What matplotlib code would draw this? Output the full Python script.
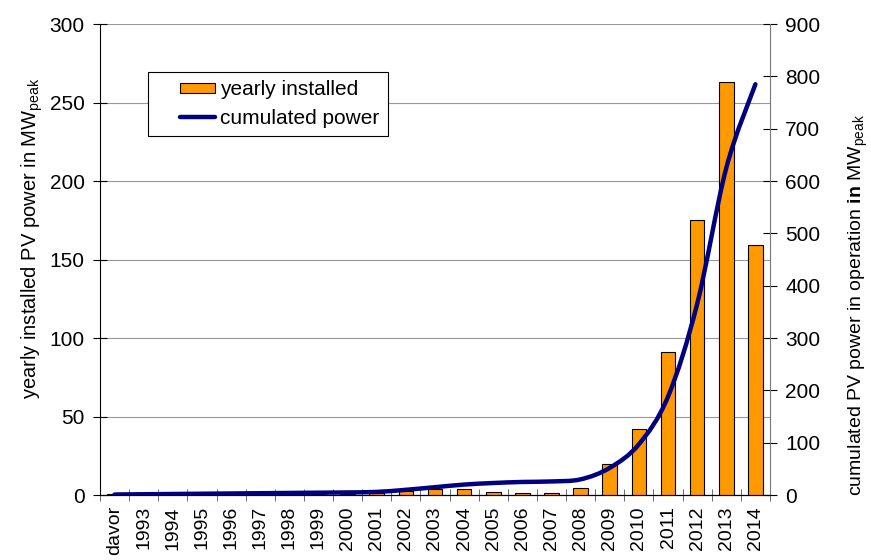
import numpy as np
import matplotlib
matplotlib.use("Agg")
import matplotlib.pyplot as plt
from matplotlib.path import Path
from matplotlib.patches import PathPatch, Patch, Rectangle
from matplotlib.lines import Line2D
from matplotlib.legend_handler import HandlerBase

plt.rcParams['font.family'] = ['Liberation Sans', 'DejaVu Sans']
plt.rcParams['mathtext.fontset'] = 'custom'
plt.rcParams['mathtext.rm'] = 'Liberation Sans'
plt.rcParams['mathtext.bf'] = 'Liberation Sans:bold'

# data
years = ['davor', '1993', '1994', '1995', '1996', '1997', '1998', '1999', '2000',
         '2001', '2002', '2003', '2004', '2005', '2006', '2007', '2008', '2009',
         '2010', '2011', '2012', '2013', '2014']
yearly = [0.6, 0.3, 0.3, 0.3, 0.4, 0.4, 0.5, 0.5, 0.6,
          1.0, 2.5, 3.8, 4.0, 2.2, 1.0, 1.4, 4.3, 20,
          42, 91, 175, 263, 159]
cumulated = [1, 1.5, 2, 2.5, 3, 3.5, 4, 4.5, 5,
             6, 10, 15, 20, 23, 25, 26, 30, 52,
             97, 188, 365, 625, 785]

BAR_COLOR = '#FF9900'
LINE_COLOR = '#000080'


def smooth_path(x, y):
    # Catmull-Rom segments as cubic Bezier curves (like Excel's smoothed line)
    x = np.asarray(x, float)
    y = np.asarray(y, float)
    verts = [(x[0], y[0])]
    codes = [Path.MOVETO]
    n = len(x)
    for i in range(n - 1):
        x0, y0 = (x[i - 1], y[i - 1]) if i > 0 else (x[i], y[i])
        x3, y3 = (x[i + 2], y[i + 2]) if i + 2 < n else (x[i + 1], y[i + 1])
        c1 = (x[i] + (x[i + 1] - x0) / 6, y[i] + (y[i + 1] - y0) / 6)
        c2 = (x[i + 1] - (x3 - x[i]) / 6, y[i + 1] - (y3 - y[i]) / 6)
        verts += [c1, c2, (x[i + 1], y[i + 1])]
        codes += [Path.CURVE4] * 3
    return Path(verts, codes)


class ShiftedHandler(HandlerBase):
    # legend key drawn in the right part of the handle box (extra left padding)
    def __init__(self, kind, shift=0.4):
        super().__init__()
        self.kind = kind
        self.shift = shift

    def create_artists(self, legend, orig_handle, xdescent, ydescent,
                       width, height, fontsize, trans):
        x0 = -xdescent + self.shift * width
        w = width * (1 - self.shift)
        if self.kind == 'patch':
            art = Rectangle((x0, -ydescent + 0.15 * height), w, 0.7 * height,
                            facecolor=BAR_COLOR, edgecolor='black', linewidth=0.8,
                            transform=trans)
        else:
            yc = -ydescent + height / 2
            art = Line2D([x0, x0 + w], [yc, yc], color=LINE_COLOR, linewidth=3.2,
                         solid_capstyle='round', transform=trans)
        return [art]


fig = plt.figure(figsize=(8.71, 5.6), dpi=100)
ax = fig.add_axes([0.1148, 0.116, 0.7692, 0.841])
ax2 = ax.twinx()

pos = np.arange(len(years))
ax.bar(pos, yearly, width=0.5, color=BAR_COLOR, edgecolor='black', linewidth=0.8, zorder=3)

ax.set_ylim(0, 300)
ax.set_xlim(-0.5, len(years) - 0.5)
ax.set_yticks(np.arange(0, 301, 50))
ax.yaxis.grid(True, color='#999999', linewidth=0.8)
ax.set_axisbelow(True)

ax.set_xticks(pos)
ax.set_xticklabels(years, rotation=90, fontsize=14)
ax.set_xticks(np.arange(-0.5, len(years)), minor=True)
ax.tick_params(axis='x', which='major', length=0, pad=8)
ax.tick_params(axis='x', which='minor', length=8, direction='inout', color='#555555')
ax.tick_params(axis='y', length=10, direction='inout', labelsize=15, pad=6)

ax2.set_ylim(0, 900)
ax2.set_yticks(np.arange(0, 901, 100))
ax2.tick_params(axis='y', length=10, direction='inout', labelsize=15, pad=6)

patch = PathPatch(smooth_path(pos, cumulated), facecolor='none', edgecolor=LINE_COLOR,
                  linewidth=3.2, capstyle='round', zorder=5)
ax2.add_patch(patch)

for a in (ax, ax2):
    a.spines['top'].set_visible(False)
ax2.spines['left'].set_visible(False)
ax2.spines['right'].set_color('#777777')
ax.spines['right'].set_visible(False)

ax.set_ylabel(r'yearly installed PV power in MW$_{\rm peak}$', fontsize=14.5)
ax.yaxis.set_label_coords(-0.082, 0.546)
ax2.set_ylabel(r'cumulated PV power in operation $\mathbf{in}$ MW$_{\rm peak}$',
               fontsize=14, rotation=90)
ax2.yaxis.set_label_coords(1.114, 0.403)

handles = [Patch(facecolor=BAR_COLOR), Line2D([0], [0], color=LINE_COLOR)]
leg = ax.legend(handles, ['yearly installed', 'cumulated power'], loc='upper left',
                bbox_to_anchor=(0.072, 0.898), borderaxespad=0, fontsize=15,
                fancybox=False, framealpha=1, edgecolor='black', handlelength=2.8,
                handletextpad=0.25, borderpad=0.4, labelspacing=0.45,
                handler_map={Patch: ShiftedHandler('patch'), Line2D: ShiftedHandler('line')})
leg.get_frame().set_linewidth(0.8)
leg.set_zorder(10)

fig.savefig('out.png', dpi=100)
